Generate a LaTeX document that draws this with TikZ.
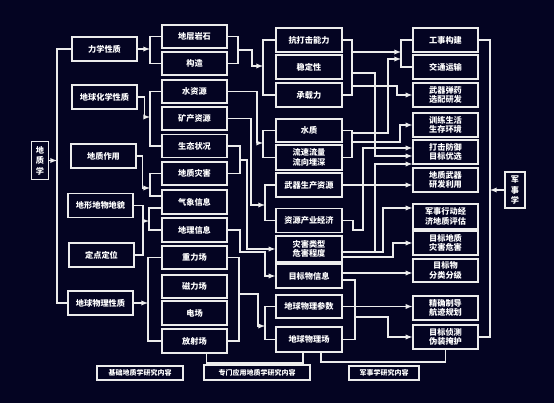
\documentclass[tikz,border=0pt]{standalone}
\usepackage{fontspec}
\newfontfamily\cjk{Noto Sans CJK SC}
\usepackage{tikz}
\usetikzlibrary{arrows}
\definecolor{bgcol}{RGB}{4,4,34}
\definecolor{linecol}{RGB}{236,236,236}

\begin{document}
\begin{tikzpicture}[x=1pt,y=-1pt,
  blk/.style={draw=linecol, line width=1.3pt, text=white, font=\cjk\bfseries\fontsize{8.2}{9.5}\selectfont,
    align=center, inner sep=1pt, minimum width=65pt, minimum height=24pt},
  tblk/.style={blk, minimum height=25pt},
  vblk/.style={blk, minimum width=17pt, minimum height=38pt, font=\cjk\bfseries\fontsize{8.2}{10.5}\selectfont},
  lbl/.style={blk, minimum height=14pt, font=\cjk\bfseries\fontsize{7}{8}\selectfont},
  ln/.style={draw=linecol, line width=1.3pt},
  arr/.style={ln, -latex}]

\fill[bgcol] (0,0) rectangle (554,403);

% side boxes
\node[vblk] (dzx) at (40,160.5) {地\\质\\学};
\node[vblk, minimum width=20pt, minimum height=36pt] (jsx) at (515,190) {军\\事\\学};

% first column
\node[blk] (lx) at (104.5,49) {力学性质};
\node[blk] (dqhx) at (104.5,97) {地球化学性质};
\node[blk] (dzzy) at (103.5,156) {地质作用};
\node[blk] (dxdm) at (100.5,205.5) {地形地物地貌};
\node[blk] (ddw) at (101.5,255) {定点定位};
\node[blk] (dqwl) at (100.5,303) {地球物理性质};

% second column
\node[blk, minimum height=23pt] (dcys) at (194.5,36.5) {地层岩石};
\node[blk, minimum height=23pt] (gz) at (194.5,63.5) {构造};
\node[blk, minimum height=23pt] (szy) at (194.5,91.5) {水资源};
\node[blk, minimum height=23pt] (kczy) at (194.5,118.5) {矿产资源};
\node[blk, minimum height=23pt] (stzk) at (194.5,146) {生态状况};
\node[blk, minimum height=23pt] (dzzh) at (194.5,173.5) {地质灾害};
\node[blk] (qxxx) at (194.5,202) {气象信息};
\node[blk] (dlxx) at (194.5,230) {地理信息};
\node[blk, minimum height=23pt] (zlc) at (194.5,257.5) {重力场};
\node[blk, minimum height=23pt] (clc) at (194.5,286.5) {磁力场};
\node[blk] (dc) at (194.5,313) {电场};
\node[blk] (fsc) at (194.5,341) {放射场};

% third column
\node[blk, minimum width=66pt] (kdj) at (309,40) {抗打击能力};
\node[blk, minimum width=66pt] (wdx) at (309,67) {稳定性};
\node[blk, minimum width=66pt] (czl) at (309,95) {承载力};
\node[blk, minimum width=66pt, minimum height=23pt] (sz) at (309,130.5) {水质};
\node[tblk, minimum width=66pt] (lsll) at (309,157.5) {流速流量\\流向埋深};
\node[blk, minimum width=66pt] (wqsc) at (309,185) {武器生产资源};
\node[blk, minimum width=66pt] (zycy) at (309,220.5) {资源产业经济};
\node[tblk, minimum width=66pt, minimum height=26pt] (zhlx) at (309,249) {灾害类型\\危害程度};
\node[blk, minimum width=66pt] (mbw) at (309,276) {目标物信息};
\node[blk, minimum width=66pt, minimum height=23pt] (dqcs) at (309,306.5) {地球物理参数};
\node[tblk, minimum width=66pt] (dqc) at (309,339.5) {地球物理场};

% fourth column
\node[blk] (gsgj) at (445.5,40) {工事构建};
\node[blk] (jtys) at (445.5,67) {交通运输};
\node[blk] (wqdy) at (445.5,95) {武器弹药\\选配研发};
\node[blk] (xlsh) at (445.5,125) {训练生活\\生存环境};
\node[blk] (djfy) at (445.5,152) {打击防御\\目标优选};
\node[blk] (dzwq) at (445.5,180) {地质武器\\研发利用};
\node[blk, minimum height=25pt] (jsxd) at (445.5,216.5) {军事行动经\\济地质评估};
\node[blk] (mbdz) at (445.5,243) {目标地质\\灾害危害};
\node[blk, minimum height=23pt] (mbwf) at (445.5,270.5) {目标物\\分类分级};
\node[blk] (jqzd) at (445.5,308) {精确制导\\航迹规划};
\node[blk] (mbzc) at (445.5,337) {目标侦测\\伪装掩护};

% bottom labels
\node[lbl, minimum width=86pt] (jcyj) at (140,373) {基础地质学研究内容};
\node[lbl, minimum width=106pt, minimum height=15pt] (zmyj) at (257,372.5) {专门应用地质学研究内容};
\node[lbl, minimum width=70pt] (jsyj) at (384,373) {军事学研究内容};

% trunks
\coordinate (tr) at (57,160.5);
\draw[ln] (lx.west) -| (tr) |- (dqwl.west);
\draw[arr] (dzx) -- (tr);
\coordinate (rt) at (490,190);
\draw[ln] (gsgj.east) -| (rt) |- (mbzc.east);
\draw[arr] (jsx) -- (rt);

% column 1 -> column 2
\coordinate (b1) at (150,49);
\coordinate (b2) at (150,117);
\coordinate (b3) at (150,188);
\coordinate (b4) at (149,221);
\coordinate (b5) at (148,303);
\coordinate (j1) at (143,221);
\draw[ln] (dcys.west) -| (b1) |- (gz.west);
\draw[arr] (lx) -- (b1);
\draw[ln] (szy.west) -| (b2) |- (stzk.west);
\draw[arr] (dqhx.east) -- ++(7,0) |- (b2);
\draw[ln] (dzzh.west) -| (b3) |- ([yshift=6pt]qxxx.west);
\draw[arr] (dzzy.east) -- ++(6,0) |- (b3);
\draw[ln] ([yshift=-6pt]qxxx.west) -| (b4) |- (dlxx.west);
\draw[ln] (dxdm.east) -| (j1) |- (ddw.east);
\draw[arr] (j1) -- (b4);
\draw[ln] (zlc.west) -| (b5) |- (fsc.west);
\draw[arr] (dqwl) -- (b5);

% column 2 -> column 3
\coordinate (c1) at (238,50);
\coordinate (d1) at (263,66);
\coordinate (d2) at (263,143);
\coordinate (d3) at (265,205);
\coordinate (c2) at (240,160);
\coordinate (c3) at (265,252);
\coordinate (c4) at (239,294);
\coordinate (d4) at (265,326);
\draw[ln] (dcys.east) -| (c1) |- (gz.east);
\draw[ln] (kdj.west) -| (d1) |- (czl.west);
\draw[arr] (c1) -- ++(14,0) |- (d1);
\draw[ln] (sz.west) -| (d2) |- (lsll.west);
\draw[arr] (szy.east) -| ([xshift=-6pt]d2) -- (d2);
\draw[ln] (wqsc.west) -| (d3) |- (zycy.west);
\draw[arr] (kczy.east) -| ([xshift=-14pt]d3) -- (d3);
\draw[ln] (stzk.east) -| (c2) |- (dzzh.east);
\draw[arr] (c2) -- ++(7,0) |- (zhlx.west);
\draw[arr] (dlxx.east) -| ([xshift=-25pt]c3) -- (c3) |- (mbw.west);
\draw[ln] (zlc.east) -| (c4) |- (fsc.east);
\draw[ln] (dqcs.west) -| (d4) |- (dqc.west);
\draw[arr] (c4) -- ++(19,0) |- (d4);

% column 3 -> column 4
\coordinate (e1) at (352,52);
\coordinate (f1) at (401,52);
\coordinate (e2) at (352,133);
\coordinate (e3) at (355,317);
\coordinate (k1) at (375,156);
\coordinate (k2) at (397,95);
\coordinate (k3) at (388,59);
\coordinate (k4) at (400,125);
\coordinate (k5) at (353,230);
\coordinate (k6) at (363,148);
\coordinate (k7) at (383,208);
\coordinate (k8) at (375,252);
\coordinate (k9) at (393,243);
\coordinate (k10) at (388,337);
\coordinate (m1) at ([yshift=3pt]mbw.east);
\draw[ln] (kdj.east) -| (e1) |- (czl.east);
\draw[ln] (gsgj.west) -| (f1) |- (jtys.west);
\draw[arr] (e1) -- (f1);
\draw[arr] ([yshift=-21pt]e1) -| (k1) -- (k1 -| djfy.west);
\draw[arr] ([yshift=-34pt]e1) -| (k2) -- (wqdy.west);
\draw[ln] (sz.east) -| (e2) |- (lsll.east);
\draw[arr] (e2) -| (k3) -- (k3 -| f1);
\draw[arr] ([yshift=-9pt]e2) -| (k4) -- (xlsh.west);
\draw[arr] (wqsc.east) -- (wqsc.east -| dzwq.west);
\draw[arr] (zycy.east) -| (k5) -| (k6) -- (k6 -| djfy.west);
\draw[arr] ([yshift=-3pt]zhlx.east) -| (k7) -- (k7 -| jsxd.west);
\draw[arr] (k8) |- ([yshift=-12pt]djfy.west);
\draw[arr] ([yshift=-8pt]zhlx.east) -| (k9) -- (mbdz.west);
\draw[arr] (m1) -- (m1 -| mbwf.west);
\draw[ln] ([yshift=-4pt]mbw.east) -| (e3) |- (dqc.east);
\draw[arr] (e3) -| (k10) -- (mbzc.west);
\draw[arr] (dqcs.east) -- (dqcs.east -| jqzd.west);

% bottom brackets
\coordinate (g1) at (260,363);
\coordinate (g2) at (400,362);
\draw[ln] ([xshift=12pt]fsc.south) |- (g1) -| ([xshift=-6pt]dqc.south);
\draw[ln] ([xshift=12pt]dqc.south) |- (g2) -| (mbzc.south);

\end{tikzpicture}
\end{document}
